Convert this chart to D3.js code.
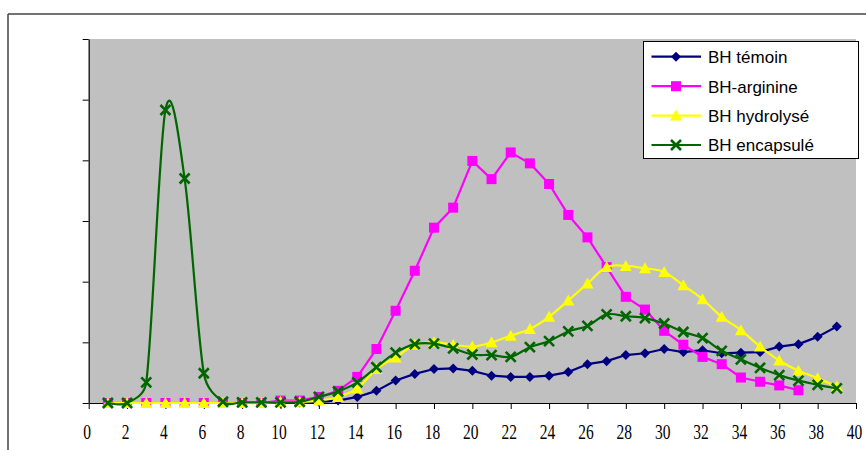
<!DOCTYPE html>
<html>
<head>
<meta charset="utf-8">
<script src="https://cdn.jsdelivr.net/npm/d3@7"></script>
<style>
  html, body { margin: 0; padding: 0; background: #fff; }
  svg { display: block; }
</style>
</head>
<body>
<svg id="chart" width="866" height="450"></svg>
<script>
// Jours de prélèvement (axe des abscisses)
const days = d3.range(1, 40);

// Séries mesurées
const temoin = [0, 0, 0, 0, 0, 0, 0, 0, 0, 0, 0.01, 0.02, 0.04, 0.10, 0.20, 0.37, 0.48, 0.56, 0.57, 0.53,
  0.45, 0.43, 0.43, 0.45, 0.51, 0.64, 0.69, 0.79, 0.82, 0.89, 0.84, 0.87, 0.82, 0.83, 0.84, 0.93, 0.97, 1.09, 1.26];
const arginine = [0, 0, 0, 0, 0, 0, 0, 0, 0, 0.04, 0.04, 0.10, 0.20, 0.43, 0.89, 1.52, 2.18, 2.89, 3.22, 3.99,
  3.69, 4.13, 3.95, 3.61, 3.10, 2.73, 2.24, 1.75, 1.54, 1.19, 0.96, 0.76, 0.64, 0.42, 0.35, 0.29, 0.21];
const hydrolyse = [0, 0, 0, 0, 0, 0, 0, 0, 0, 0.02, 0.02, 0.04, 0.10, 0.24, 0.56, 0.75, 0.96, 1.00, 0.96, 0.93,
  1.00, 1.11, 1.22, 1.42, 1.69, 1.97, 2.24, 2.26, 2.22, 2.16, 1.94, 1.71, 1.42, 1.20, 0.93, 0.70, 0.53, 0.41, 0.27];
const encapsule = [0, 0, 0.34, 4.83, 3.70, 0.49, 0.02, 0.01, 0.01, 0.01, 0.02, 0.10, 0.19, 0.34, 0.59, 0.83, 0.97, 0.98, 0.90, 0.80,
  0.79, 0.76, 0.92, 1.02, 1.18, 1.27, 1.46, 1.43, 1.40, 1.31, 1.17, 1.07, 0.86, 0.72, 0.58, 0.46, 0.37, 0.30, 0.24];

const seriesNames = ["BH témoin", "BH-arginine", "BH hydrolysé", "BH encapsulé"];
const xTicks = d3.range(0, 41, 2);
const yTicks = d3.range(0, 7, 1);

const series = [
  { name: seriesNames[0], values: temoin, color: "#000080", marker: "diamond", smooth: false },
  { name: seriesNames[1], values: arginine, color: "#FF00FF", marker: "square", smooth: false },
  { name: seriesNames[2], values: hydrolyse, color: "#FFFF00", marker: "triangle", smooth: true },
  { name: seriesNames[3], values: encapsule, color: "#006600", marker: "cross", smooth: true }
];

const svg = d3.select("#chart");
const plot = { left: 88.7, right: 856, top: 39, bottom: 403 };

const x = d3.scaleLinear().domain([0, 40]).range([plot.left, plot.right]);
const y = d3.scaleLinear().domain([0, 6]).range([plot.bottom, plot.top]);

// Cadre extérieur du graphique
svg.append("line").attr("x1", 8).attr("x2", 866).attr("y1", 14).attr("y2", 14)
  .attr("stroke", "#444").attr("stroke-width", 1.5);
svg.append("line").attr("x1", 8).attr("x2", 8).attr("y1", 14).attr("y2", 450)
  .attr("stroke", "#444").attr("stroke-width", 1.5);

// Zone de traçage grise
svg.append("rect")
  .attr("x", plot.left).attr("y", plot.top)
  .attr("width", plot.right - plot.left).attr("height", plot.bottom - plot.top)
  .attr("fill", "#C0C0C0");

// Axes
const xAxis = svg.append("g")
  .attr("transform", `translate(0,${plot.bottom})`)
  .call(d3.axisBottom(x).tickValues(xTicks).tickSize(6).tickSizeOuter(0).tickFormat(d3.format("d")));
xAxis.select(".domain").attr("stroke", "#000").attr("stroke-width", 1.2);
xAxis.selectAll(".tick line").attr("stroke", "#000").attr("stroke-width", 1);
xAxis.selectAll(".tick text")
  .attr("font-family", "'Liberation Serif', 'Times New Roman', serif")
  .attr("font-size", 15.5)
  .attr("fill", "#000")
  .attr("x", -2)
  .attr("y", 35.7 / 1.4)
  .attr("dy", 0)
  .attr("transform", "scale(1,1.4)");

const yAxis = svg.append("g")
  .attr("transform", `translate(${plot.left},0)`)
  .call(d3.axisLeft(y).tickValues(yTicks).tickSize(6).tickSizeOuter(0).tickFormat(""));
yAxis.select(".domain").attr("stroke", "#000").attr("stroke-width", 1.2);
yAxis.selectAll(".tick line").attr("stroke", "#000").attr("stroke-width", 1);

// Lissage de type Bézier : tangentes (P[i+1]-P[i-1])/6, poignées limitées
// à la moitié du segment pour éviter les creux sous les points bas.
function smoothPath(p) {
  const path = d3.path();
  const n = p.length;
  const tan = p.map((_, i) => {
    const a = p[Math.max(0, i - 1)], b = p[Math.min(n - 1, i + 1)];
    return [(b[0] - a[0]) / 6, (b[1] - a[1]) / 6];
  });
  const clamp = (t, segLen) => {
    const len = Math.hypot(t[0], t[1]);
    const k = len > 0 ? Math.min(1, 0.5 * segLen / len) : 1;
    return [t[0] * k, t[1] * k];
  };
  path.moveTo(p[0][0], p[0][1]);
  for (let i = 0; i < n - 1; i++) {
    const a = p[i], b = p[i + 1];
    const seg = Math.hypot(b[0] - a[0], b[1] - a[1]);
    const t1 = clamp(tan[i], seg), t2 = clamp(tan[i + 1], seg);
    path.bezierCurveTo(a[0] + t1[0], a[1] + t1[1], b[0] - t2[0], b[1] - t2[1], b[0], b[1]);
  }
  return path.toString();
}

// Symboles
function drawMarker(g, type, color, cx, cy) {
  if (type === "diamond") {
    g.append("path")
      .attr("d", `M${cx},${cy - 5}L${cx + 5},${cy}L${cx},${cy + 5}L${cx - 5},${cy}Z`)
      .attr("fill", color);
  } else if (type === "square") {
    g.append("rect").attr("x", cx - 5).attr("y", cy - 5).attr("width", 10).attr("height", 10)
      .attr("fill", color);
  } else if (type === "triangle") {
    g.append("path")
      .attr("d", `M${cx},${cy - 6}L${cx + 6},${cy + 5}L${cx - 6},${cy + 5}Z`)
      .attr("fill", color);
  } else if (type === "cross") {
    g.append("path")
      .attr("d", `M${cx - 5},${cy - 5}L${cx + 5},${cy + 5}M${cx - 5},${cy + 5}L${cx + 5},${cy - 5}`)
      .attr("stroke", color).attr("stroke-width", 2.6).attr("fill", "none");
  }
}

// Courbes et points
const straight = d3.line().x(d => x(d[0])).y(d => y(d[1]));
series.forEach(s => {
  const g = svg.append("g");
  const pts = s.values.map((v, i) => [days[i], v]);
  const d = s.smooth ? smoothPath(pts.map(q => [x(q[0]), y(q[1])])) : straight(pts);
  g.append("path")
    .attr("d", d)
    .attr("fill", "none")
    .attr("stroke", s.color)
    .attr("stroke-width", 2.2)
    .attr("stroke-linejoin", "round");
  pts.forEach(p => drawMarker(g, s.marker, s.color, x(p[0]), y(p[1])));
});

// Légende
const legend = svg.append("g");
legend.append("rect")
  .attr("x", 643.5).attr("y", 41.5).attr("width", 215).attr("height", 117)
  .attr("fill", "#fff").attr("stroke", "#000").attr("stroke-width", 1);
const rowY = [56.7, 86.2, 115.6, 145];
series.forEach((s, i) => {
  const cy = rowY[i];
  legend.append("line")
    .attr("x1", 651.5).attr("x2", 701).attr("y1", cy).attr("y2", cy)
    .attr("stroke", s.color).attr("stroke-width", 2.2);
  drawMarker(legend, s.marker, s.color, 676, cy);
  legend.append("text")
    .attr("x", 708).attr("y", cy + 6.3)
    .attr("font-family", "'Liberation Sans', Arial, sans-serif")
    .attr("font-size", 17)
    .attr("fill", "#000")
    .text(s.name);
});
</script>
</body>
</html>
